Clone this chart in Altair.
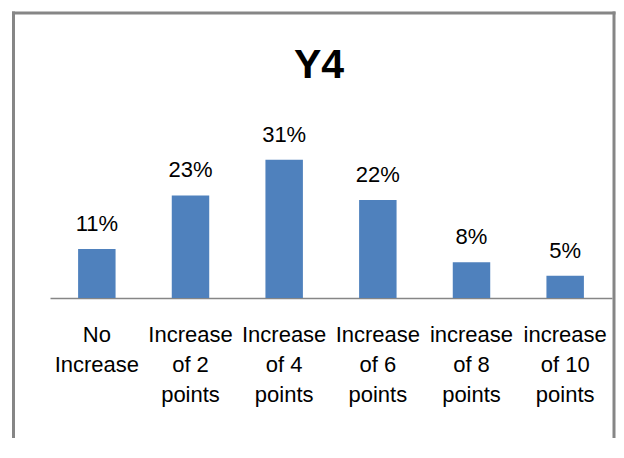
import altair as alt
import pandas as pd

categories = ["No\nIncrease", "Increase\nof 2\npoints", "Increase\nof 4\npoints",
              "Increase\nof 6\npoints", "increase\nof 8\npoints", "increase\nof 10\npoints"]
values = [11, 23, 31, 22, 8, 5]
title_text = "Y4"

df = pd.DataFrame({"cat": categories, "val": values})
df["label"] = df["val"].astype(str) + "%"

FONT = "Liberation Sans"

x_enc = alt.X("cat:N", sort=categories, title=None,
              scale=alt.Scale(paddingInner=0.6, paddingOuter=0.3),
              axis=alt.Axis(labelAngle=0, labelExpr="split(datum.label, '\\n')",
                            labelFont=FONT, labelFontSize=22, labelColor="#000000",
                            labelLineHeight=30, labelBaseline="top", labelPadding=26,
                            ticks=False, domainColor="#868686", domainWidth=1.5,
                            grid=False, labelLimit=200))
y_enc = alt.Y("val:Q", scale=alt.Scale(domain=[0, 35], nice=False), axis=None)

bars = alt.Chart(df).mark_bar(color="#4F81BD").encode(x=x_enc, y=y_enc)
labels = alt.Chart(df).mark_text(font=FONT, fontSize=22, color="#000000",
                                 baseline="alphabetic", dy=-18).encode(
    x=alt.X("cat:N", sort=categories), y="val:Q", text="label:N")

one = pd.DataFrame({"t": [title_text]})
title = alt.Chart(one).mark_text(font=FONT, fontSize=41, fontWeight="bold",
                                 color="#000000", baseline="alphabetic",
                                 align="center").encode(
    x=alt.value(269), y=alt.value(-64), text="t:N")

frame = pd.DataFrame({
    "x": [-38.0, -36.5, 564.0],
    "x2": [565.5, -36.5, 564.0],
    "y": [-129.0, -130.5, -130.5],
    "y2": [-129.0, 300.0, 300.0],
})
frame_rules = alt.Chart(frame).mark_rule(color="#868686", strokeWidth=3, clip=False).encode(
    x=alt.X("x:Q", scale=None, axis=None), x2="x2:Q",
    y=alt.Y("y:Q", scale=None, axis=None), y2="y2:Q")

main = alt.layer(bars, labels, title)

chart = alt.layer(main, frame_rules).resolve_scale(
    x="independent", y="independent").properties(
    width=562, height=156,
    view=alt.ViewBackground(stroke="white", strokeWidth=0, strokeOpacity=0),
    autosize=alt.AutoSizeParams(type="none"),
    padding={"left": 42, "top": 134, "right": 4, "bottom": 140},
).configure_view(stroke="white", strokeWidth=0).configure(background="white")

chart.save("out.html", embed_options={"renderer": "svg", "actions": False})
